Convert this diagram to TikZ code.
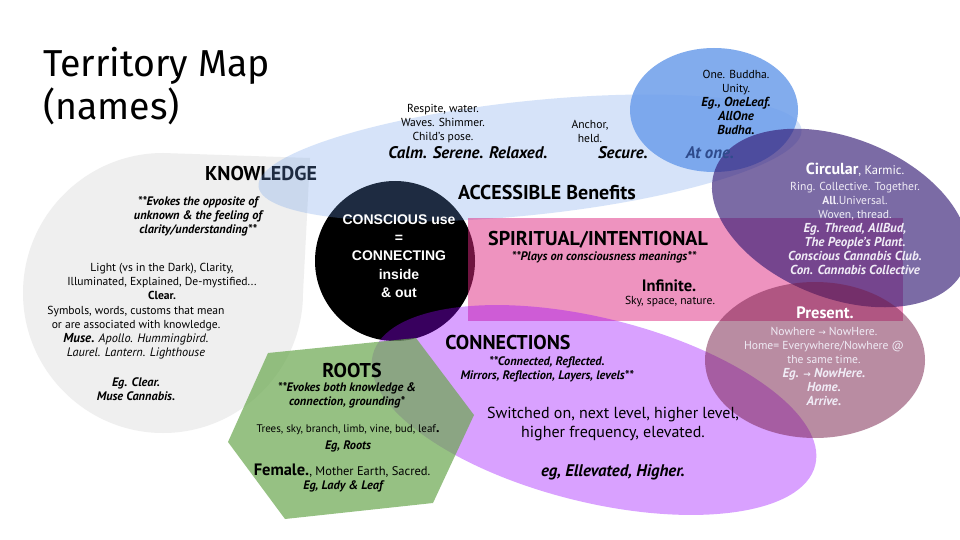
\documentclass[tikz,border=0pt]{standalone}
\usepackage{fontspec}
\setmainfont{PT Sans}[BoldItalicFeatures={Scale=1.12},ItalicFeatures={Scale=1.06}]
\newfontfamily\titlefont{Fira Sans}
\newfontfamily\arialfont{Liberation Sans}
\newfontfamily\arrowfont{DejaVu Sans}
\definecolor{blobgray}{RGB}{239,239,239}
\definecolor{lblue}{RGB}{109,158,235}
\definecolor{mblue}{RGB}{109,158,235}
\definecolor{pinkc}{RGB}{222,40,128}
\definecolor{dpurple}{RGB}{53,28,117}
\definecolor{vio}{RGB}{153,0,255}
\definecolor{mauve}{RGB}{116,27,71}
\definecolor{greenc}{RGB}{106,168,79}
\definecolor{atone}{RGB}{47,75,140}
\definecolor{softwhite}{RGB}{240,236,246}
\newcommand\bix{\bfseries\itshape}
\tikzset{
  sm/.style={font=\fontsize{11.6}{14}\selectfont, align=center, inner sep=0pt},
  smbi/.style={font=\bfseries\itshape\fontsize{11}{14}\selectfont, align=center, inner sep=0pt},
  md/.style={font=\fontsize{16}{19}\selectfont, align=center, inner sep=0pt},
  mdbi/.style={font=\bfseries\itshape\fontsize{15}{19}\selectfont, align=center, inner sep=0pt},
  head/.style={font=\bfseries\fontsize{20}{22}\selectfont, inner sep=0pt},
  titletext/.style={anchor=base west, font=\titlefont\fontsize{37.5}{43}\selectfont, inner sep=0pt}
}
\begin{document}
\begin{tikzpicture}[x=1pt,y=-1pt]
\useasboundingbox (0,0) rectangle (960,540);
\fill[white] (0,0) rectangle (960,540);

% title
\node[titletext] (t1) at (43,77) {Territory Map};
\node[titletext] (t2) at (43,120) {(names)};

% knowledge blob
\fill[blobgray] (163,153) -- (310,158) -- (303,293)
  .. controls (303,370) and (240,433) .. (163,433)
  .. controls (86,433) and (23,370) .. (23,293)
  .. controls (23,216) and (86,153) .. (163,153) -- cycle;
\node[head] (know) at (261,174) {KNOWLEDGE};

% black circle
\fill[black] (395,261) circle [radius=80];

% light blue ellipse
\fill[lblue, fill opacity=0.28, shift={(530,158)}, rotate=6] (0,0) ellipse [x radius=273, y radius=57];
% medium blue ellipse
\fill[mblue, fill opacity=0.85] (714,110) ellipse [x radius=84, y radius=62];
% pink rectangle
\fill[pinkc, fill opacity=0.5] (468,218) rectangle (903,321);
% dark purple ellipse
\fill[dpurple, fill opacity=0.65, shift={(840,218)}, rotate=-21.6] (0,0) ellipse [x radius=134, y radius=80];
% violet ellipse
\fill[vio, fill opacity=0.37, shift={(594,410)}, rotate=-14] (0,0) ellipse [x radius=228, y radius=92];
% green hexagon
\fill[greenc, fill opacity=0.7] (268,353) -- (416,338) -- (474,415) -- (433,503) -- (285,519) -- (228,442) -- cycle;
% mauve ellipse
\fill[mauve, fill opacity=0.5] (815,360) ellipse [x radius=110, y radius=78];

% accessible benefits texts
\node[sm] (respite) at (443,124) {Respite, water.\\Waves. Shimmer.\\Child’s pose.};
\node[mdbi] (calm) at (468,153) {Calm. Serene. Relaxed.};
\node[sm] (anchor) at (590,131) {Anchor,\\held.};
\node[mdbi] (secure) at (623,153) {Secure.};
\node[mdbi, text=atone] (atonetxt) at (710,153) {At one.};
\node[sm] (oneb) at (736,102) {One. Buddha.\\Unity.\\{\bix Eg., OneLeaf.}\\{\bix AllOne}\\{\bix Budha.}};
\node[head] (access) at (547,193) {ACCESSIBLE Benefits};

% circular
\node[md, text=white] (circ) at (855,170) {{\bfseries Circular}{\fontsize{12.5}{14}\selectfont, Karmic.}};
\node[sm, text=softwhite] (circb) at (855,228)
  {Ring. Collective. Together.\\{\bfseries All}.Universal.\\Woven, thread.\\{\bix Eg. Thread, AllBud,}\\{\bix The People’s Plant.}\\{\bix Conscious Cannabis Club.}\\{\bix Con. Cannabis Collective}};

% spiritual
\node[head] (spirit) at (598,240) {SPIRITUAL/INTENTIONAL};
\node[smbi] (plays) at (604,257.5) {**Plays on consciousness meanings**};
\node[md, font=\bfseries\fontsize{16.5}{19}\selectfont] (infinite) at (669,286) {Infinite.};
\node[sm] (sky) at (670,302) {Sky, space, nature.};

% present
\node[md, font=\bfseries\fontsize{16.5}{19}\selectfont, text=white] (present) at (825,313) {Present.};
\node[sm, text=softwhite] (presb) at (824,366) {Nowhere {\arrowfont\fontsize{9}{14}\selectfont →} NowHere.\\Home= Everywhere/Nowhere @\\the same time.\\{\bix Eg. {\arrowfont\fontsize{9}{14}\selectfont →} NowHere.}\\{\bix Home.}\\{\bix Arrive.}};

% conscious
\node[font=\arialfont\bfseries\fontsize{14}{18.3}\selectfont, text=white, align=center, inner sep=0pt] (consc) at (399,256)
  {CONSCIOUS use\\=\\CONNECTING\\inside\\\& out};

% knowledge texts
\node[smbi] (evokes) at (198,216) {**Evokes the opposite of\\unknown \& the feeling of\\clarity/understanding**};
\node[sm] (light) at (162,281) {Light (vs in the Dark), Clarity,\\Illuminated, Explained, De-mystified...\\{\bfseries Clear.}};
\node[sm] (symbols) at (136,333) {Symbols, words, customs that mean\\or are associated with knowledge.\\{\bix Muse.} {\itshape Apollo. Hummingbird.}\\{\itshape Laurel. Lantern. Lighthouse}};
\node[smbi] (egclear) at (136,389) {Eg. Clear.\\Muse Cannabis.};

% roots texts
\node[head] (roots) at (352,370) {ROOTS};
\node[smbi] (evokes2) at (347,395.5) {**Evokes both knowledge \&\\connection, grounding*};
\node[font=\fontsize{11}{14}\selectfont, inner sep=0pt] (trees) at (348,430) {Trees, sky, branch, limb, vine, bud, leaf{\bfseries\fontsize{14}{14}\selectfont .}};
\node[smbi] (egroots) at (348,446) {Eg, Roots};
\node[sm] (female) at (342,471) {{\bfseries\fontsize{16.5}{19}\selectfont Female.}{\fontsize{12.5}{14}\selectfont, Mother Earth, Sacred.}};
\node[smbi] (eglady) at (343,486) {Eg, Lady \& Leaf};

% connections texts
\node[head] (conn) at (508,342) {CONNECTIONS};
\node[smbi] (connected) at (547,369) {**Connected, Reflected.\\Mirrors, Reflection, Layers, levels**};
\node[md] (switched) at (613,424) {Switched on, next level, higher level,\\higher frequency, elevated.};
\node[mdbi] (ellev) at (613,472) {eg, Ellevated, Higher.};
\end{tikzpicture}
\end{document}
